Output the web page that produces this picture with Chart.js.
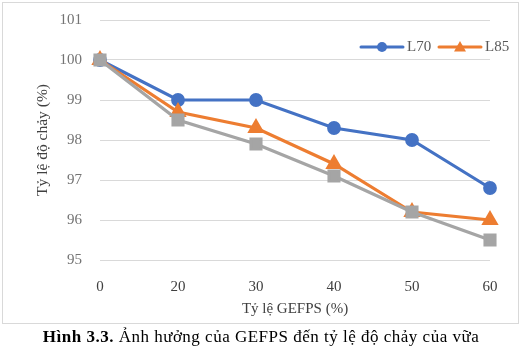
<!DOCTYPE html>
<html>
<head>
<meta charset="utf-8">
<script src="https://cdn.jsdelivr.net/npm/chart.js@4/dist/chart.umd.min.js"></script>
<style>
  html, body { margin: 0; padding: 0; background: #fff; }
  #wrap { position: relative; width: 522px; height: 352px; overflow: hidden; }
  #c { position: absolute; left: 0; top: 0; }
  #frame { position: absolute; left: 2px; top: 2px; width: 515px; height: 320px; border: 1px solid #d9d9d9; pointer-events: none; }
  #cap { position: absolute; left: 0; top: 326px; width: 522px; text-align: center;
         font-family: "Liberation Serif", "DejaVu Serif", serif; font-size: 17px; letter-spacing: 0.5px; color: #000; line-height: 22px; }
</style>
</head>
<body>
<div id="wrap">
  <canvas id="c" width="522" height="325"></canvas>
  <div id="frame"></div>
  <div id="cap"><b>Hình 3.3.</b> Ảnh hưởng của GEFPS đến tỷ lệ độ chảy của vữa</div>
</div>
<script>
const categories = ['0', '20', '30', '40', '50', '60'];
const seriesL70 = [100, 99.0, 99.0, 98.3, 98.0, 96.8];
const seriesL85 = [100, 98.7, 98.3, 97.4, 96.2, 96.0];
const seriesGray = [100, 98.5, 97.9, 97.1, 96.2, 95.5];
const legendNames = ['L70', 'L85'];
const xTitle = 'Tỷ lệ GEFPS (%)';
const yTitle = 'Tỷ lệ độ chảy (%)';

const FONT = '"Liberation Serif", "DejaVu Serif", serif';
const BLUE = '#4472c4', ORANGE = '#ed7d31', GRAY = '#a5a5a5';

const legendPlugin = {
  id: 'customLegend',
  afterDraw(chart) {
    const ctx = chart.ctx;
    const y = 47;
    const items = [
      { x: 361, color: BLUE, style: 'circle', name: legendNames[0] },
      { x: 439, color: ORANGE, style: 'triangle', name: legendNames[1] }
    ];
    ctx.save();
    items.forEach(it => {
      ctx.strokeStyle = it.color;
      ctx.lineWidth = 3;
      ctx.lineCap = 'round';
      ctx.beginPath();
      ctx.moveTo(it.x, y);
      ctx.lineTo(it.x + 42, y);
      ctx.stroke();
      ctx.fillStyle = it.color;
      const cx = it.x + 21;
      ctx.beginPath();
      if (it.style === 'circle') {
        ctx.arc(cx, y, 5, 0, Math.PI * 2);
      } else {
        ctx.moveTo(cx, y - 6);
        ctx.lineTo(cx + 6, y + 4.5);
        ctx.lineTo(cx - 6, y + 4.5);
        ctx.closePath();
      }
      ctx.fill();
      ctx.fillStyle = '#595959';
      ctx.font = '15px ' + FONT;
      ctx.textBaseline = 'middle';
      ctx.textAlign = 'left';
      ctx.fillText(it.name, it.x + 46, y);
    });
    ctx.restore();
  }
};

new Chart(document.getElementById('c'), {
  type: 'line',
  data: {
    labels: categories,
    datasets: [
      { label: legendNames[0], data: seriesL70, borderColor: BLUE, backgroundColor: BLUE,
        borderWidth: 3.2, pointStyle: 'circle', pointRadius: 5.3, pointHoverRadius: 5.3, order: 3, tension: 0 },
      { label: legendNames[1], data: seriesL85, borderColor: ORANGE, backgroundColor: ORANGE,
        borderWidth: 3.2, pointStyle: 'triangle', pointRadius: 6.8, pointHoverRadius: 6.8, order: 2, tension: 0 },
      { label: '', data: seriesGray, borderColor: GRAY, backgroundColor: GRAY,
        borderWidth: 3.2, pointStyle: 'rect', pointRadius: 7, pointHoverRadius: 7, order: 1, tension: 0 }
    ]
  },
  options: {
    responsive: false,
    animation: false,
    events: [],
    layout: { padding: { top: 20, right: 32, bottom: 3, left: 30 } },
    plugins: { legend: { display: false }, tooltip: { enabled: false } },
    scales: {
      x: {
        type: 'category',
        offset: false,
        grid: { display: false },
        border: { display: false },
        ticks: { color: '#404040', font: { family: FONT, size: 15 }, padding: 10, maxRotation: 0 },
        title: { display: true, text: xTitle, color: '#404040', font: { family: FONT, size: 15 }, padding: { top: 4, bottom: 4 } },
        afterFit(s) { s.height = 62; }
      },
      y: {
        min: 95, max: 101,
        ticks: { stepSize: 1, color: '#737373', font: { family: FONT, size: 15 }, padding: 18 },
        grid: { color: '#d9d9d9', lineWidth: 1, drawTicks: false },
        border: { display: false },
        title: { display: true, text: yTitle, color: '#404040', font: { family: FONT, size: 15.5 }, padding: { top: 4, bottom: 4 } },
        afterFit(s) { s.width = 70; s.paddingTop = 9; s.paddingBottom = 9; }
      }
    }
  },
  plugins: [legendPlugin]
});
</script>
</body>
</html>
